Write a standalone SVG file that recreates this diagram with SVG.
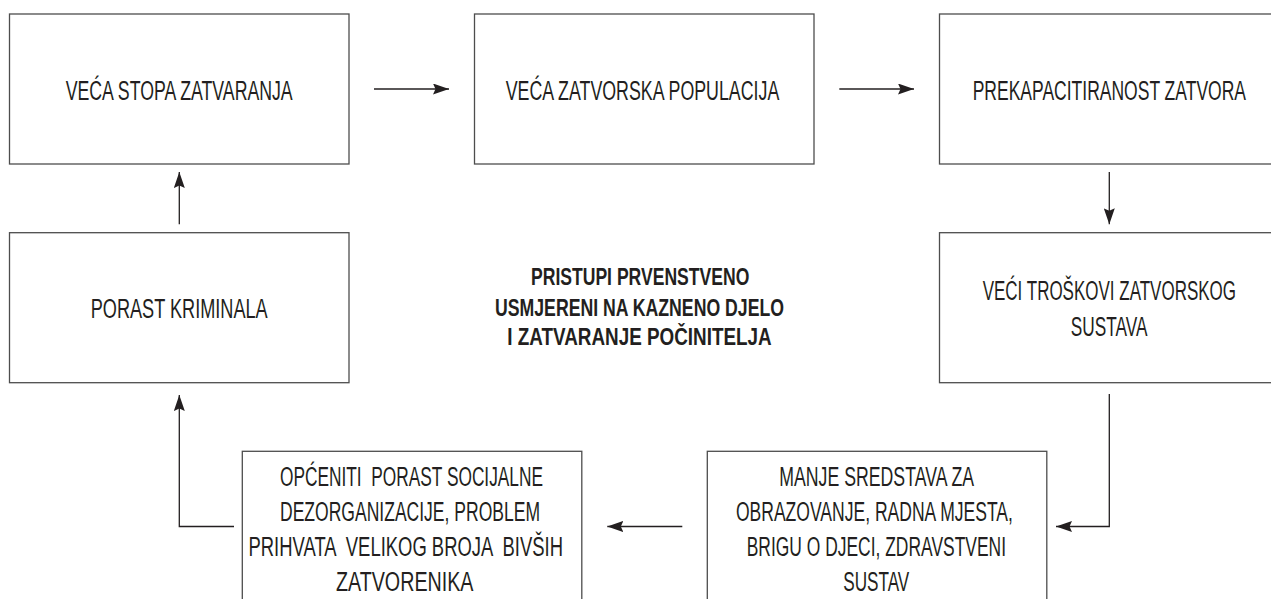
<svg xmlns="http://www.w3.org/2000/svg" width="1271" height="599" viewBox="0 0 1271 599">
<style>
.box{fill:#fff;stroke:#4d4d4d;stroke-width:1.3}
.t{font-family:"Liberation Sans",Arial,sans-serif;font-size:27px;fill:#231f20}
.c{font-family:"Liberation Sans",Arial,sans-serif;font-size:23px;font-weight:bold;fill:#231f20}
.ln{fill:none;stroke:#231f20;stroke-width:1.3}
</style>
<defs>
<marker id="ah" markerUnits="userSpaceOnUse" viewBox="0 0 16 11" refX="16" refY="5.5" markerWidth="16" markerHeight="11" orient="auto">
<path d="M0,0 L16,5.5 L0,11 L2.5,5.5 Z" fill="#231f20"/>
</marker>
</defs>
<rect width="1271" height="599" fill="#fff"/>
<g id="n1">
<rect class="box" x="9.5" y="14" width="339.5" height="150"/>
<text class="t" x="65.7" y="100" textLength="227" lengthAdjust="spacingAndGlyphs">VEĆA STOPA ZATVARANJA</text>
</g>
<g id="n2">
<rect class="box" x="474.5" y="14" width="339.5" height="150"/>
<text class="t" x="505.7" y="100" textLength="273.6" lengthAdjust="spacingAndGlyphs">VEĆA ZATVORSKA POPULACIJA</text>
</g>
<g id="n3">
<rect class="box" x="939.5" y="14" width="339.5" height="150"/>
<text class="t" x="972.7" y="100" textLength="273.3" lengthAdjust="spacingAndGlyphs">PREKAPACITIRANOST ZATVORA</text>
</g>
<g id="n4">
<rect class="box" x="9.5" y="232.7" width="339.5" height="150"/>
<text class="t" x="90.7" y="318.3" textLength="177" lengthAdjust="spacingAndGlyphs">PORAST KRIMINALA</text>
</g>
<g id="n5">
<rect class="box" x="939.5" y="232.7" width="339.5" height="150"/>
<text class="t" x="982.7" y="300" textLength="253.3" lengthAdjust="spacingAndGlyphs">VEĆI TROŠKOVI ZATVORSKOG</text>
<text class="t" x="1070.7" y="335.7" textLength="76.7" lengthAdjust="spacingAndGlyphs">SUSTAVA</text>
</g>
<g id="center">
<text class="c" x="531" y="285" textLength="218.3" lengthAdjust="spacingAndGlyphs">PRISTUPI PRVENSTVENO</text>
<text class="c" x="495" y="315.7" textLength="289" lengthAdjust="spacingAndGlyphs">USMJERENI NA KAZNENO DJELO</text>
<text class="c" x="507.3" y="345.3" textLength="264.3" lengthAdjust="spacingAndGlyphs">I ZATVARANJE POČINITELJA</text>
</g>
<g id="n6">
<rect class="box" x="242.3" y="451.3" width="339.5" height="150"/>
<text class="t" xml:space="preserve" x="280" y="486" textLength="263" lengthAdjust="spacingAndGlyphs">OPĆENITI  PORAST SOCIJALNE</text>
<text class="t" x="280" y="521" textLength="260" lengthAdjust="spacingAndGlyphs">DEZORGANIZACIJE, PROBLEM</text>
<text class="t" xml:space="preserve" x="248.5" y="556" textLength="314.5" lengthAdjust="spacingAndGlyphs">PRIHVATA  VELIKOG BROJA  BIVŠIH</text>
<text class="t" x="336" y="591" textLength="137.5" lengthAdjust="spacingAndGlyphs">ZATVORENIKA</text>
</g>
<g id="n7">
<rect class="box" x="707.3" y="451.3" width="339.5" height="150"/>
<text class="t" x="779.3" y="486" textLength="194.7" lengthAdjust="spacingAndGlyphs">MANJE SREDSTAVA ZA</text>
<text class="t" x="735.9" y="521" textLength="277" lengthAdjust="spacingAndGlyphs">OBRAZOVANJE, RADNA MJESTA,</text>
<text class="t" x="746.7" y="556" textLength="259.3" lengthAdjust="spacingAndGlyphs">BRIGU O DJECI, ZDRAVSTVENI</text>
<text class="t" x="843.3" y="591" textLength="66" lengthAdjust="spacingAndGlyphs">SUSTAV</text>
</g>
<g id="connectors">
<path class="ln" d="M374,89 H449" marker-end="url(#ah)"/>
<path class="ln" d="M839.3,89 H914" marker-end="url(#ah)"/>
<path class="ln" d="M1109.3,172 V224.3" marker-end="url(#ah)"/>
<path class="ln" d="M1109.3,394 V526.5 H1056" marker-end="url(#ah)"/>
<path class="ln" d="M682.3,526.5 H607.3" marker-end="url(#ah)"/>
<path class="ln" d="M234,526.5 H179.3 V395" marker-end="url(#ah)"/>
<path class="ln" d="M179.3,224.3 V172" marker-end="url(#ah)"/>
</g>
</svg>
